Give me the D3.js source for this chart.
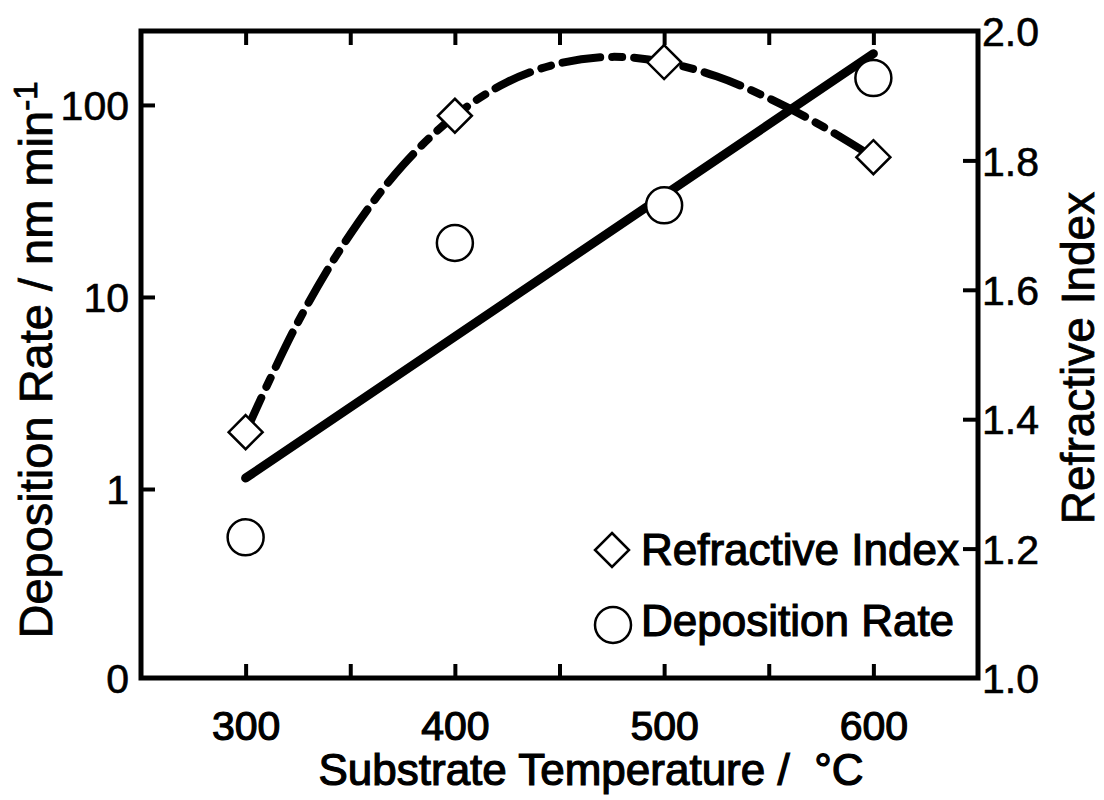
<!DOCTYPE html>
<html>
<head>
<meta charset="utf-8">
<script src="https://cdn.jsdelivr.net/npm/d3@7"></script>
<style>
  html, body { margin: 0; padding: 0; background: #fff; }
  svg { display: block; font-family: "Liberation Sans", Arial, Helvetica, sans-serif; }
</style>
</head>
<body>
<svg id="chart" width="1104" height="800"></svg>
<script>
// ---- data ----
const temperatures = [300, 400, 500, 600];
const refractiveIndex = [1.38, 1.869, 1.952, 1.805];
const depositionRate = [0.56, 19.1, 30, 138];

// exponential fit of the deposition rate (straight line on the log axis)
const rateFitTemps = [300, 600];
const rateFitValues = [1.14, 185];

// smooth fit through the refractive index (dashed curve)
const riFitTemps = [300, 325, 350, 375, 400, 425, 450, 475, 500, 525, 550, 575, 600];
const riFitValues = [1.380, 1.550, 1.686, 1.792, 1.869, 1.921, 1.950, 1.960, 1.952, 1.930, 1.896, 1.854, 1.805];

// axis ticks
const xTickValues = [300, 400, 500, 600];
const xMinorTicks = [350, 450, 550];
const leftTickLabels = ["0", "1", "10", "100"];
const leftTickValues = [0.1037, 1, 10, 100];
const rightTickValues = [1.0, 1.2, 1.4, 1.6, 1.8, 2.0];

const legendLabels = ["Refractive Index", "Deposition Rate"];

// ---- layout ----
const svg = d3.select("#chart");
const L = 141, R = 978, T = 31, B = 678;
const x = d3.scaleLinear().domain([250, 650]).range([L, R]);
const yL = d3.scaleLog().domain([0.1037, 242.7]).range([B, T]);
const yR = d3.scaleLinear().domain([1.0, 2.0]).range([B, T]);

const tickFont = 41;

// bottom axis
const gx = svg.append("g").attr("transform", `translate(0,${B})`)
  .call(d3.axisBottom(x).tickValues(xTickValues.concat(xMinorTicks)).tickSize(-14)
    .tickFormat(d => xTickValues.includes(d) ? d : ""));
// top axis (ticks only)
const gxt = svg.append("g").attr("transform", `translate(0,${T})`)
  .call(d3.axisTop(x).tickValues(xTickValues.concat(xMinorTicks)).tickSize(-14).tickFormat(""));
// left axis
const gyl = svg.append("g").attr("transform", `translate(${L},0)`)
  .call(d3.axisLeft(yL).tickValues(leftTickValues).tickSize(-14)
    .tickFormat((d, i) => leftTickLabels[i]));
// right axis
const gyr = svg.append("g").attr("transform", `translate(${R},0)`)
  .call(d3.axisRight(yR).tickValues(rightTickValues).tickSize(-15)
    .tickFormat(d3.format(".1f")));

[gx, gxt, gyl, gyr].forEach(g => {
  g.select(".domain").remove();
  g.selectAll(".tick line").attr("stroke", "#000").attr("stroke-width", 4);
  g.selectAll(".tick text").attr("fill", "#000").attr("font-size", tickFont)
    .attr("font-family", "'Liberation Sans', Arial, sans-serif")
    .attr("stroke", "#000").attr("stroke-width", 0.6);
});
gx.selectAll(".tick text").attr("y", 62).attr("dy", null).attr("stroke-width", 1.2);
gyl.selectAll(".tick text").attr("x", -12).attr("dy", "0.36em");
gyr.selectAll(".tick text").attr("x", 4).attr("dy", "0.36em");
// hide corner tick marks for 0 / 1.0 / 2.0
gyl.selectAll(".tick").filter((d, i) => i === 0).select("line").remove();
gyr.selectAll(".tick").filter(d => d === 1.0 || d === 2.0).select("line").remove();

// frame
svg.append("rect").attr("x", L).attr("y", T).attr("width", R - L).attr("height", B - T)
  .attr("fill", "none").attr("stroke", "#000").attr("stroke-width", 5);

// ---- fit lines ----
const rateLine = d3.line().x(d => x(d[0])).y(d => yL(d[1]));
svg.append("path")
  .datum(d3.zip(rateFitTemps, rateFitValues))
  .attr("d", rateLine)
  .attr("fill", "none").attr("stroke", "#000").attr("stroke-width", 9)
  .attr("stroke-linecap", "round");

const riLine = d3.line().x(d => x(d[0])).y(d => yR(d[1])).curve(d3.curveCatmullRom);
svg.append("path")
  .datum(d3.zip(riFitTemps, riFitValues))
  .attr("d", riLine)
  .attr("fill", "none").attr("stroke", "#000").attr("stroke-width", 8)
  .attr("stroke-dasharray", "38,12,10,12")
  .attr("stroke-linecap", "round");

// ---- markers ----
const diamond = "M0,-17L17,0L0,17L-17,0Z";
svg.append("g").selectAll("path")
  .data(d3.zip(temperatures, refractiveIndex))
  .join("path")
  .attr("transform", d => `translate(${x(d[0])},${yR(d[1])})`)
  .attr("d", diamond)
  .attr("fill", "#fff").attr("stroke", "#000").attr("stroke-width", 2.5);

svg.append("g").selectAll("circle")
  .data(d3.zip(temperatures, depositionRate))
  .join("circle")
  .attr("cx", d => x(d[0])).attr("cy", d => yL(d[1])).attr("r", 18)
  .attr("fill", "#fff").attr("stroke", "#000").attr("stroke-width", 2.5);

// ---- legend ----
const lg = svg.append("g");
lg.append("path").attr("transform", "translate(612,550)").attr("d", diamond)
  .attr("fill", "#fff").attr("stroke", "#000").attr("stroke-width", 2.5);
lg.append("circle").attr("cx", 613).attr("cy", 625).attr("r", 18)
  .attr("fill", "#fff").attr("stroke", "#000").attr("stroke-width", 2.5);
lg.selectAll("text").data(legendLabels).join("text")
  .attr("x", 641).attr("y", (d, i) => i === 0 ? 565 : 636)
  .attr("font-size", 44).attr("fill", "#000")
  .attr("stroke", "#000").attr("stroke-width", 1.2)
  .text(d => d);

// ---- axis titles ----
svg.append("text").attr("x", 591).attr("y", 785).attr("text-anchor", "middle")
  .attr("font-size", 44).attr("stroke", "#000").attr("stroke-width", 1.2)
  .text("Substrate Temperature /\u00A0 \u00B0C");

const lt = svg.append("text").attr("transform", "translate(52,360) rotate(-90)")
  .attr("text-anchor", "middle").attr("font-size", 47)
  .attr("stroke", "#000").attr("stroke-width", 0.8);
lt.append("tspan").text("Deposition Rate / nm min");
lt.append("tspan").attr("font-size", 33).attr("dy", -15).text("-1");

svg.append("text").attr("transform", "translate(1094,358) rotate(-90)")
  .attr("text-anchor", "middle").attr("font-size", 46)
  .attr("stroke", "#000").attr("stroke-width", 0.8)
  .text("Refractive Index");
</script>
</body>
</html>
